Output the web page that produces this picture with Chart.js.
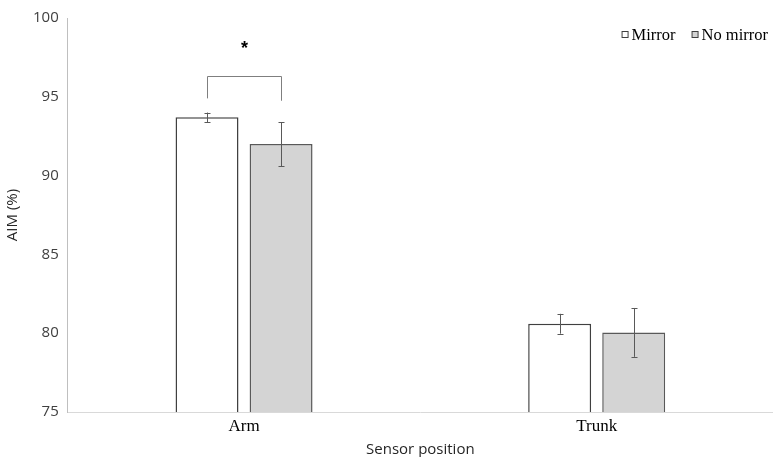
<!DOCTYPE html>
<html>
<head>
<meta charset="utf-8">
<script src="https://cdn.jsdelivr.net/npm/chart.js@4"></script>
<style>
  html, body { margin: 0; padding: 0; background: #fff; }
  #wrap { width: 773px; height: 457px; }
</style>
</head>
<body>
<div id="wrap"><canvas id="aim-chart"></canvas></div>
<script>
const categories = ["Arm", "Trunk"];
const seriesNames = ["Mirror", "No mirror"];
const mirrorValues = [93.7, 80.6];
const mirrorErrors = [0.3, 0.63];
const noMirrorValues = [92.0, 80.05];
const noMirrorErrors = [1.4, 1.55];
const yTicks = [75, 80, 85, 90, 95, 100];
// significance bracket between the two Arm bars
const bracketLevel = 96.35;
const bracketLabel = "*";

const serif = "'Liberation Serif', 'Times New Roman', serif";
const sans = "'Open Sans', 'Liberation Sans', sans-serif";

const errorBars = {
  id: "errorBars",
  afterDatasetsDraw(chart) {
    const ctx = chart.ctx;
    const y = chart.scales.y;
    const errs = [mirrorErrors, noMirrorErrors];
    ctx.save();
    ctx.strokeStyle = "#595959";
    ctx.lineWidth = 1;
    chart.data.datasets.forEach((ds, di) => {
      chart.getDatasetMeta(di).data.forEach((bar, i) => {
        const v = ds.data[i];
        const top = y.getPixelForValue(v + errs[di][i]);
        const bot = y.getPixelForValue(v - errs[di][i]);
        const x = Math.round(bar.x) + 0.5;
        ctx.beginPath();
        ctx.moveTo(x, top); ctx.lineTo(x, bot);
        ctx.moveTo(x - 3, Math.round(top) + 0.5); ctx.lineTo(x + 3, Math.round(top) + 0.5);
        ctx.moveTo(x - 3, Math.round(bot) + 0.5); ctx.lineTo(x + 3, Math.round(bot) + 0.5);
        ctx.stroke();
      });
    });

    // bracket
    const b1 = chart.getDatasetMeta(0).data[0];
    const b2 = chart.getDatasetMeta(1).data[0];
    const by = Math.round(y.getPixelForValue(bracketLevel)) + 0.5;
    const x1 = Math.round(b1.x) + 0.5, x2 = Math.round(b2.x) + 0.5;
    ctx.strokeStyle = "#7f7f7f";
    ctx.beginPath();
    ctx.moveTo(x1, y.getPixelForValue(bracketLevel - 1.45));
    ctx.lineTo(x1, by);
    ctx.lineTo(x2, by);
    ctx.lineTo(x2, y.getPixelForValue(bracketLevel - 1.6));
    ctx.stroke();
    ctx.fillStyle = "#000";
    ctx.font = "bold 18px 'Liberation Sans', Arial, sans-serif";
    ctx.textAlign = "center";
    ctx.textBaseline = "middle";
    ctx.fillText(bracketLabel, (x1 + x2) / 2, y.getPixelForValue(bracketLevel + 1.7));
    ctx.restore();
  }
};

// legend drawn inside the plot, top right
const cornerLegend = {
  id: "cornerLegend",
  afterDraw(chart) {
    const ctx = chart.ctx;
    ctx.save();
    ctx.font = "16.5px " + serif;
    ctx.textBaseline = "middle";
    ctx.textAlign = "left";
    const box = 7, gapText = 3, gapItem = 16;
    const widths = chart.data.datasets.map((ds) => box + gapText + ctx.measureText(ds.label).width);
    const total = widths.reduce((a, b) => a + b, 0) + gapItem * (widths.length - 1);
    let x = chart.width - 5 - total;
    const cy = chart.chartArea.top + 17;
    chart.data.datasets.forEach((ds, i) => {
      ctx.fillStyle = ds.backgroundColor;
      ctx.fillRect(x + 0.5, cy - 3.5, box - 1, box - 1);
      ctx.strokeStyle = "#404040";
      ctx.lineWidth = 1;
      ctx.strokeRect(x + 0.5, cy - 3.5, box - 1, box - 1);
      ctx.fillStyle = "#000";
      ctx.fillText(ds.label, x + box + gapText, cy + 1);
      x += widths[i] + gapItem;
    });
    ctx.restore();
  }
};

new Chart(document.getElementById("aim-chart"), {
  type: "bar",
  data: {
    labels: categories,
    datasets: [
      {
        label: seriesNames[0],
        data: mirrorValues,
        backgroundColor: "#ffffff",
        borderColor: "#404040",
        borderWidth: 1.5,
        categoryPercentage: 0.42,
        barPercentage: 0.85,
      },
      {
        label: seriesNames[1],
        data: noMirrorValues,
        backgroundColor: "#d4d4d4",
        borderColor: "#595959",
        borderWidth: 1.5,
        categoryPercentage: 0.42,
        barPercentage: 0.85,
      },
    ],
  },
  options: {
    responsive: true,
    maintainAspectRatio: false,
    animation: false,
    layout: { padding: { top: 0, right: 0, left: 4, bottom: 0 } },
    plugins: {
      legend: { display: false },
      tooltip: { enabled: false },
    },
    scales: {
      x: {
        grid: { display: false, drawTicks: false },
        border: { color: "#d9d9d9", width: 1 },
        ticks: {
          color: "#000",
          font: { family: serif, size: 17, lineHeight: 1 },
          padding: 6,
        },
        title: {
          display: true,
          text: "Sensor position",
          color: "#262626",
          font: { family: sans, size: 15, lineHeight: 1 },
          padding: { top: 1, bottom: 0 },
        },
      },
      y: {
        min: 75,
        max: 100,
        afterBuildTicks(axis) {
          axis.ticks = yTicks.map((v) => ({ value: v }));
        },
        grid: { display: false, drawTicks: false },
        border: { color: "#bfbfbf", width: 1 },
        ticks: {
          color: "#404040",
          font: { family: sans, size: 15 },
          padding: 9,
        },
        title: {
          display: true,
          text: "AIM (%)",
          color: "#262626",
          font: { family: sans, size: 15 },
          padding: { top: 0, bottom: 2 },
        },
      },
    },
  },
  plugins: [errorBars, cornerLegend],
});
</script>
</body>
</html>
